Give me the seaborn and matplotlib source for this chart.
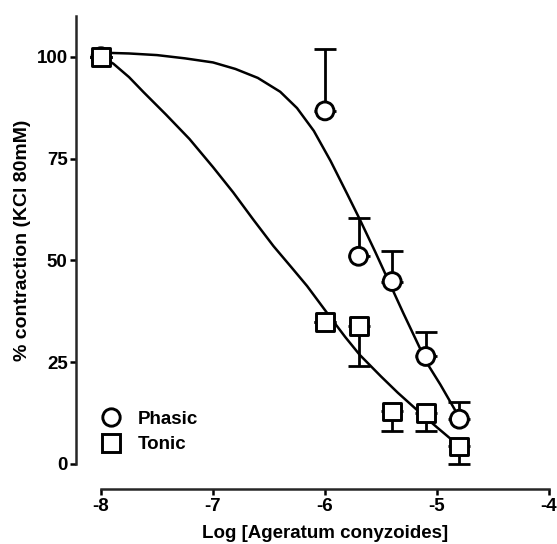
import numpy as np
import pandas as pd
import matplotlib
matplotlib.use("Agg")
import matplotlib.pyplot as plt
import seaborn as sns
from matplotlib.lines import Line2D

# Mean % contraction (+/- SEM)
log_conc = [-8.0, -6.0, -5.7, -5.4, -5.1, -4.8]
phasic_mean = [100.0, 86.7, 51.0, 44.8, 26.4, 11.0]
phasic_sem = [0.0, 15.1, 9.3, 7.5, 6.0, 4.3]
tonic_mean = [100.0, 34.8, 33.8, 12.9, 12.6, 4.3]
tonic_sem = [0.0, 0.0, 9.7, 4.7, 4.4, 4.3]

# Fitted curves
phasic_fit_x = [-8.0, -7.75, -7.5, -7.25, -7.0, -6.8, -6.6, -6.4, -6.25, -6.1, -5.95,
                -5.8, -5.69, -5.55, -5.42, -5.3, -5.2, -5.09, -4.97, -4.84]
phasic_fit_y = [101.0, 100.8, 100.4, 99.6, 98.6, 97.0, 94.8, 91.4, 87.4, 81.8, 74.4,
                66.2, 60.1, 52.0, 44.2, 37.0, 31.2, 24.8, 19.5, 13.3]
tonic_fit_x = [-8.0, -7.89, -7.75, -7.62, -7.42, -7.21, -7.0, -6.82, -6.64, -6.46, -6.3,
               -6.16, -5.96, -5.82, -5.69, -5.5, -5.35, -5.18, -5.0, -4.78]
tonic_fit_y = [100.0, 98.3, 95.0, 91.3, 85.8, 79.8, 72.9, 66.7, 60.0, 53.5, 48.3,
               43.7, 36.3, 31.2, 26.8, 21.5, 17.5, 13.3, 9.0, 3.9]

x_ticks = [-8, -7, -6, -5, -4]
y_ticks = [0, 25, 50, 75, 100]

sns.set_style("ticks")
plt.rcParams["font.family"] = ["Liberation Sans", "DejaVu Sans"]
plt.rcParams["font.weight"] = "bold"
plt.rcParams["axes.unicode_minus"] = False
plt.rcParams["text.color"] = "black"
plt.rcParams["axes.labelcolor"] = "black"

pts = pd.DataFrame({
    "log": log_conc * 2,
    "pct": phasic_mean + tonic_mean,
    "series": ["Phasic"] * len(log_conc) + ["Tonic"] * len(log_conc),
})
fit = pd.DataFrame({
    "log": phasic_fit_x + tonic_fit_x,
    "pct": phasic_fit_y + tonic_fit_y,
    "series": ["Phasic"] * len(phasic_fit_x) + ["Tonic"] * len(tonic_fit_x),
})

fig = plt.figure(figsize=(5.57, 5.44), dpi=100)
ax = fig.add_axes([101 / 557, 80 / 544, 448 / 557, 448 / 544])

# curves
sns.lineplot(data=fit, x="log", y="pct", units="series", estimator=None, sort=False,
             color="black", linewidth=1.8, ax=ax, legend=False)

# one-sided error bars (phasic up, tonic down)
zeros = np.zeros(len(log_conc))
ax.errorbar(log_conc, phasic_mean, yerr=[zeros, phasic_sem], fmt="none", ecolor="black",
            elinewidth=2.0, capsize=8, capthick=2.0, clip_on=False, zorder=2)
ax.errorbar(log_conc, tonic_mean, yerr=[tonic_sem, zeros], fmt="none", ecolor="black",
            elinewidth=2.0, capsize=8, capthick=2.0, clip_on=False, zorder=2)

# markers
sns.scatterplot(data=pts, x="log", y="pct", style="series",
                markers={"Phasic": "o", "Tonic": "s"}, s=165, color="white",
                edgecolor="black", linewidth=2.1, legend=False, ax=ax, zorder=3, clip_on=False)

ax.set_xlim(-8, -4)
ax.set_ylim(0, 110)
ax.set_xticks(x_ticks)
ax.set_yticks(y_ticks)

for side in ["top", "right"]:
    ax.spines[side].set_visible(False)
ax.spines["left"].set_position(("outward", 18))
ax.spines["bottom"].set_position(("outward", 18))
ax.spines["left"].set_linewidth(1.8)
ax.spines["bottom"].set_linewidth(1.8)
ax.spines["left"].set_bounds(0, 110)
ax.spines["bottom"].set_bounds(-8, -4)
ax.tick_params(axis="both", length=4.5, width=1.8, color="black", labelcolor="black",
               labelsize=13.5)
ax.tick_params(axis="x", pad=2)
ax.tick_params(axis="y", pad=1.5)
for lbl in ax.get_xticklabels() + ax.get_yticklabels():
    lbl.set_fontweight("bold")

ax.set_xlabel("Log [Ageratum conyzoides]", fontsize=13.5, fontweight="bold", labelpad=7.5)
ax.set_ylabel("% contraction (KCl 80mM)", fontsize=14, fontweight="bold", labelpad=4)

handles = [
    Line2D([], [], marker="o", linestyle="none", markersize=12.5, markerfacecolor="white",
           markeredgecolor="black", markeredgewidth=2.1),
    Line2D([], [], marker="s", linestyle="none", markersize=12.5, markerfacecolor="white",
           markeredgecolor="black", markeredgewidth=2.1),
]
ax.legend(handles, ["Phasic", "Tonic"], loc="center left", bbox_to_anchor=(-0.022, 0.072),
          frameon=False, borderpad=0, handlelength=1.1, handletextpad=0.9, labelspacing=0.45,
          prop={"weight": "bold", "size": 13.5}, labelcolor="black")

fig.savefig("out.png", dpi=100)
